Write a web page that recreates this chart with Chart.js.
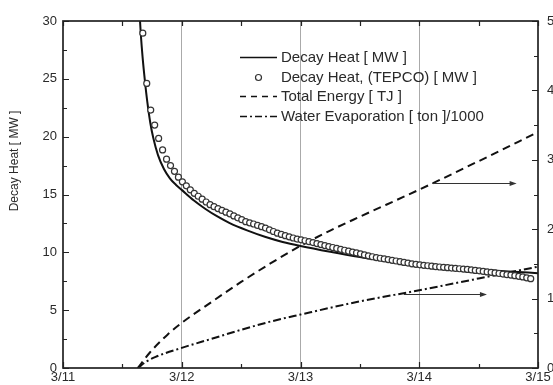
<!DOCTYPE html>
<html lang="en">
<head>
  <meta charset="UTF-8" />
  <title>Decay Heat</title>
  <style>
    html, body {
      margin: 0;
      padding: 0;
      background: #fff;
      overflow: hidden;
    }
    canvas {
      display: block;
    }
  </style>
  <script src="https://cdn.jsdelivr.net/npm/chart.js"></script>
</head>
<body>
  <canvas id="grafico" width="553" height="385"></canvas>

  <script>
    // x axis: days after 3/11 00:00
    const dayLabels = ['3/11', '3/12', '3/13', '3/14', '3/15'];

    // Decay heat [MW] (solid line)
    const heatT = [0.640, 0.655, 0.670, 0.690, 0.710, 0.735, 0.760, 0.800, 0.850, 0.900, 0.950,
                   1.00, 1.10, 1.20, 1.30, 1.40, 1.55, 1.70, 1.85, 2.00, 2.25, 2.50,
                   2.75, 3.00, 3.25, 3.50, 3.75, 4.00];
    const heatV = [31.5, 28.9, 26.9, 24.8, 23.0, 21.2, 19.9, 18.4, 17.2, 16.4, 15.85,
                   15.4, 14.5, 13.75, 13.1, 12.55, 11.9, 11.35, 10.9, 10.55, 10.05, 9.6,
                   9.22, 8.95, 8.72, 8.52, 8.35, 8.2];

    // Decay heat, TEPCO [MW] (circles), one reading every 48 min from tepcoStart
    const tepcoStart = 0.672;
    const tepcoStep = 1 / 30;
    const tepcoV = [28.95, 24.6, 22.3, 21.0, 19.85, 18.85, 18.05, 17.5, 17.0, 16.5,
                    16.1, 15.75, 15.4, 15.1, 14.85, 14.6, 14.35, 14.12, 13.95, 13.78,
                    13.62, 13.47, 13.33, 13.15, 12.98, 12.82, 12.65, 12.55, 12.45, 12.33,
                    12.22, 12.1, 11.95, 11.8, 11.66, 11.55, 11.44, 11.34, 11.24, 11.15,
                    11.08, 11.0, 10.92, 10.84, 10.76, 10.67, 10.58, 10.5, 10.42, 10.34,
                    10.26, 10.18, 10.1, 10.02, 9.95, 9.87, 9.78, 9.7, 9.62, 9.55,
                    9.49, 9.43, 9.37, 9.31, 9.25, 9.19, 9.13, 9.07, 9.01, 8.96,
                    8.92, 8.88, 8.84, 8.8, 8.76, 8.73, 8.7, 8.67, 8.64, 8.61,
                    8.58, 8.55, 8.52, 8.48, 8.44, 8.4, 8.35, 8.31, 8.27, 8.22,
                    8.17, 8.12, 8.07, 8.03, 7.98, 7.93, 7.87, 7.8, 7.72];

    // Total energy [TJ] (dashed, right axis)
    const energyT = [0.63, 0.73, 0.88, 1.0, 1.25, 1.5, 1.75, 2.0, 2.25, 2.5, 3.0, 3.5, 4.0];
    const energyV = [0, 0.22, 0.48, 0.65, 0.95, 1.24, 1.51, 1.76, 1.98, 2.18, 2.57, 2.98, 3.40];

    // Water evaporation [ton]/1000 (dash-dot, right axis)
    const waterT = [0.63, 0.70, 0.78, 1.0, 1.25, 1.5, 1.75, 2.0, 2.5, 3.0, 3.5, 4.0];
    const waterV = [0, 0.09, 0.16, 0.29, 0.42, 0.55, 0.67, 0.77, 0.96, 1.12, 1.29, 1.46];

    const legendLabels = ['Decay Heat [ MW ]', 'Decay Heat, (TEPCO) [ MW ]', 'Total Energy [ TJ ]', 'Water Evaporation [ ton ]/1000'];

    // arrows pointing to the right axis (x in days, y on right axis)
    const arrows = [
      { from: 3.11, to: 3.82, y: 2.67 },
      { from: 2.87, to: 3.57, y: 1.07 }
    ];

    const pares = (ts, vs) => ts.map((t, i) => ({ x: t, y: vs[i] }));
    const tepcoPts = tepcoV.map((v, i) => ({ x: tepcoStart + i * tepcoStep, y: v }));

    const fonte = 'Arial, "Liberation Sans", sans-serif';
    const corTexto = '#2a2a2a';

    // moldura, ticks internos, setas, titulo do eixo e legenda
    const extras = {
      id: 'extras',
      afterDraw(chart) {
        const c = chart.ctx;
        const a = chart.chartArea;
        const sx = chart.scales.x, sy = chart.scales.y, sy2 = chart.scales.y2;
        c.save();

        // ticks
        c.strokeStyle = '#222';
        c.lineWidth = 1.2;
        c.beginPath();
        for (let v = 0; v <= 4.001; v += 0.5) {
          const px = Math.round(sx.getPixelForValue(v)) + 0.5;
          const len = Number.isInteger(v) ? 6 : 4;
          c.moveTo(px, a.bottom); c.lineTo(px, a.bottom - len);
          c.moveTo(px, a.top); c.lineTo(px, a.top + 5);
        }
        for (let v = 0; v <= 30.001; v += 2.5) {
          const py = Math.round(sy.getPixelForValue(v)) + 0.5;
          const len = (v % 5 === 0) ? 6 : 4;
          c.moveTo(a.left, py); c.lineTo(a.left + len, py);
        }
        for (let v = 0; v <= 5.001; v += 0.5) {
          const py = Math.round(sy2.getPixelForValue(v)) + 0.5;
          const len = Number.isInteger(v) ? 6 : 4;
          c.moveTo(a.right, py); c.lineTo(a.right - len, py);
        }
        c.stroke();

        // moldura
        c.lineWidth = 1.7;
        c.strokeStyle = '#222';
        c.strokeRect(a.left, a.top, a.right - a.left, a.bottom - a.top);

        // setas
        c.strokeStyle = '#333';
        c.fillStyle = '#333';
        c.lineWidth = 1;
        arrows.forEach(s => {
          const x1 = sx.getPixelForValue(s.from);
          const x2 = sx.getPixelForValue(s.to);
          const y = Math.round(sy2.getPixelForValue(s.y)) + 0.5;
          c.beginPath();
          c.moveTo(x1, y); c.lineTo(x2 - 5, y);
          c.stroke();
          c.beginPath();
          c.moveTo(x2, y); c.lineTo(x2 - 7, y - 2.5); c.lineTo(x2 - 7, y + 2.5);
          c.closePath();
          c.fill();
        });

        // titulo do eixo y
        c.fillStyle = corTexto;
        c.font = '12px ' + fonte;
        c.textAlign = 'center';
        c.textBaseline = 'middle';
        c.translate(15, sy.getPixelForValue(17.9));
        c.rotate(-Math.PI / 2);
        c.fillText('Decay Heat [ MW ]', 0, 0);
        c.setTransform(1, 0, 0, 1, 0, 0);

        // legenda
        const lx = a.left + 177, ly = a.top + 36, passo = 19.6, larg = 37;
        c.font = '15px ' + fonte;
        c.textAlign = 'left';
        c.textBaseline = 'middle';
        legendLabels.forEach((txt, i) => {
          const y = Math.round(ly + i * passo) + 0.5;
          c.strokeStyle = '#111';
          c.lineWidth = 1.6;
          if (i === 1) {
            c.beginPath();
            c.arc(lx + larg / 2, y, 3, 0, Math.PI * 2);
            c.fillStyle = '#fff';
            c.fill();
            c.strokeStyle = '#333';
            c.lineWidth = 1.2;
            c.stroke();
          } else {
            c.setLineDash(i === 0 ? [] : (i === 2 ? [6, 5] : [7, 3, 2, 3]));
            c.beginPath();
            c.moveTo(lx, y); c.lineTo(lx + larg, y);
            c.stroke();
            c.setLineDash([]);
          }
          c.fillStyle = corTexto;
          c.fillText(txt, lx + larg + 4, y);
        });

        c.restore();
      }
    };

    const ctx = document.getElementById('grafico').getContext('2d');
    new Chart(ctx, {
      type: 'line',
      data: {
        datasets: [
          {
            label: legendLabels[0],
            data: pares(heatT, heatV),
            borderColor: '#111',
            borderWidth: 2,
            pointRadius: 0,
            cubicInterpolationMode: 'monotone',
            yAxisID: 'y',
            order: 2
          },
          {
            label: legendLabels[1],
            data: tepcoPts,
            showLine: false,
            pointRadius: 3,
            pointBorderWidth: 1.2,
            pointBorderColor: '#333',
            pointBackgroundColor: '#fff',
            yAxisID: 'y',
            order: 1
          },
          {
            label: legendLabels[2],
            data: pares(energyT, energyV),
            borderColor: '#111',
            borderWidth: 2,
            borderDash: [8, 5],
            pointRadius: 0,
            cubicInterpolationMode: 'monotone',
            yAxisID: 'y2',
            order: 3
          },
          {
            label: legendLabels[3],
            data: pares(waterT, waterV),
            borderColor: '#111',
            borderWidth: 2,
            borderDash: [8, 3, 2, 3],
            pointRadius: 0,
            cubicInterpolationMode: 'monotone',
            yAxisID: 'y2',
            order: 4
          }
        ]
      },
      options: {
        responsive: false,
        animation: false,
        events: [],
        layout: { padding: { top: 21, left: 0, right: 0, bottom: 0 } },
        plugins: {
          legend: { display: false },
          tooltip: { enabled: false }
        },
        scales: {
          x: {
            type: 'linear',
            min: 0,
            max: 4,
            ticks: {
              stepSize: 1,
              maxRotation: 0,
              padding: 2,
              color: corTexto,
              font: { family: fonte, size: 13 },
              callback: v => dayLabels[v]
            },
            grid: {
              drawTicks: false,
              lineWidth: 1,
              color: c => (c.tick && c.tick.value > 0 && c.tick.value < 4) ? '#aaaaaa' : 'rgba(0,0,0,0)'
            },
            border: { display: false },
            afterFit: s => { s.height = 17; }
          },
          y: {
            min: 0,
            max: 30,
            ticks: {
              stepSize: 5,
              padding: 6,
              color: corTexto,
              font: { family: fonte, size: 13 }
            },
            grid: { display: false, drawTicks: false },
            border: { display: false },
            afterFit: s => { s.width = 63; }
          },
          y2: {
            position: 'right',
            min: 0,
            max: 5,
            ticks: {
              stepSize: 1,
              padding: 9,
              color: corTexto,
              font: { family: fonte, size: 13 }
            },
            grid: { display: false, drawTicks: false },
            border: { display: false },
            afterFit: s => { s.width = 15; }
          }
        }
      },
      plugins: [extras]
    });
  </script>
</body>
</html>
